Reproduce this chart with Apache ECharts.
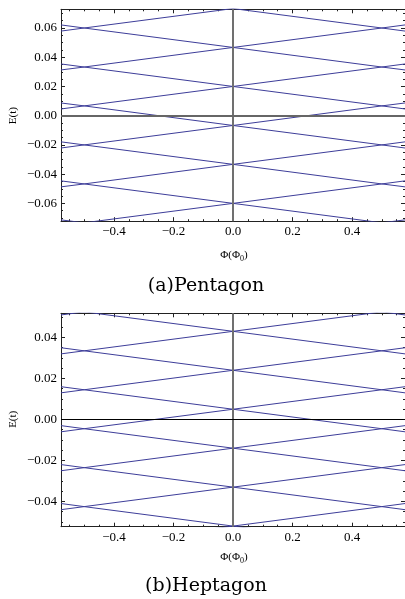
<!DOCTYPE html>
<html>
<head>
<meta charset="utf-8">
<script src="https://cdn.jsdelivr.net/npm/echarts@6/dist/echarts.min.js"></script>
<style>
html,body{margin:0;padding:0;background:#fff;}
#c{width:405px;height:599px;}
</style>
</head>
<body>
<div id="c"></div>
<script>
// ---------- data ----------
// flux sample points Φ/Φ0 at which each level's energy was read
const phiPts = [-0.578, -0.5, 0, 0.5, 0.578];

// (a) Pentagon: rising levels E(t) at phiPts
const pentaUp = [
  [-0.1021, -0.1000, -0.0867, -0.0733, -0.0713],
  [-0.0754, -0.0733, -0.0600, -0.0467, -0.0446],
  [-0.0487, -0.0467, -0.0333, -0.0200, -0.0179],
  [-0.0221, -0.0200, -0.0067,  0.0067,  0.0087],
  [ 0.0046,  0.0067,  0.0200,  0.0333,  0.0354],
  [ 0.0313,  0.0333,  0.0467,  0.0600,  0.0621],
  [ 0.0579,  0.0600,  0.0733,  0.0867,  0.0887]
];
// (a) Pentagon: falling levels
const pentaDown = [
  [-0.0713, -0.0733, -0.0867, -0.1000, -0.1021],
  [-0.0446, -0.0467, -0.0600, -0.0733, -0.0754],
  [-0.0179, -0.0200, -0.0333, -0.0467, -0.0487],
  [ 0.0087,  0.0067, -0.0067, -0.0200, -0.0221],
  [ 0.0354,  0.0333,  0.0200,  0.0067,  0.0046],
  [ 0.0621,  0.0600,  0.0467,  0.0333,  0.0313],
  [ 0.0887,  0.0867,  0.0733,  0.0600,  0.0579]
];
// (b) Heptagon: rising levels
const heptaUp = [
  [-0.0631, -0.0616, -0.0521, -0.0426, -0.0411],
  [-0.0441, -0.0426, -0.0331, -0.0236, -0.0221],
  [-0.0251, -0.0236, -0.0141, -0.0046, -0.0031],
  [-0.0061, -0.0046,  0.0049,  0.0144,  0.0159],
  [ 0.0129,  0.0144,  0.0239,  0.0334,  0.0349],
  [ 0.0319,  0.0334,  0.0429,  0.0524,  0.0539],
  [ 0.0509,  0.0524,  0.0619,  0.0714,  0.0729]
];
// (b) Heptagon: falling levels
const heptaDown = [
  [-0.0411, -0.0426, -0.0521, -0.0616, -0.0631],
  [-0.0221, -0.0236, -0.0331, -0.0426, -0.0441],
  [-0.0031, -0.0046, -0.0141, -0.0236, -0.0251],
  [ 0.0159,  0.0144,  0.0049, -0.0046, -0.0061],
  [ 0.0349,  0.0334,  0.0239,  0.0144,  0.0129],
  [ 0.0539,  0.0524,  0.0429,  0.0334,  0.0319],
  [ 0.0729,  0.0714,  0.0619,  0.0524,  0.0509]
];

// tick values and labels
const xTickValues = [-0.4, -0.2, 0, 0.2, 0.4];
const xTickLabels = ['\u22120.4', '\u22120.2', '0.0', '0.2', '0.4'];
const yTickValuesA = [-0.06, -0.04, -0.02, 0, 0.02, 0.04, 0.06];
const yTickLabelsA = ['\u22120.06', '\u22120.04', '\u22120.02', '0.00', '0.02', '0.04', '0.06'];
const yTickValuesB = [-0.04, -0.02, 0, 0.02, 0.04];
const yTickLabelsB = ['\u22120.04', '\u22120.02', '0.00', '0.02', '0.04'];

const captions = ['(a)Pentagon', '(b)Heptagon'];

// ---------- styling / layout ----------
const LINE_COLOR = '#3d3d99';
const FRAME = '#222';
const LABEL_FONT = 'Liberation Serif';
const LABEL_SIZE = 13;

const panels = [
  { top: 9.3,   height: 211.9, ymin: -0.0722, ymax: 0.0728, yVals: yTickValuesA, yLabs: yTickLabelsA,
    up: pentaUp, down: pentaDown, hLine: { color: '#666', width: 2 }, vLine: { color: '#707070', width: 2 } },
  { top: 313.3, height: 213.4, ymin: -0.0524, ymax: 0.0517, yVals: yTickValuesB, yLabs: yTickLabelsB,
    up: heptaUp, down: heptaDown, hLine: { color: '#000', width: 1 }, vLine: { color: '#707070', width: 2 } }
];
const XMIN = -0.578, XMAX = 0.578;

function minorTicks(lo, hi, step, majors) {
  const out = [];
  const n0 = Math.ceil(lo / step - 1e-9), n1 = Math.floor(hi / step + 1e-9);
  for (let i = n0; i <= n1; i++) {
    const v = Math.round(i * step * 100000) / 100000;
    if (!majors.some(m => Math.abs(m - v) < 1e-9)) out.push(v);
  }
  return out;
}
function lookup(vals, labs) {
  return v => { const i = vals.findIndex(t => Math.abs(t - v) < 1e-9); return i >= 0 ? labs[i] : ''; };
}

const grid = [], xAxis = [], yAxis = [], series = [];
panels.forEach((p, g) => {
  grid.push({ left: 61, top: p.top, width: 346, height: p.height, containLabel: false });
  const xMinor = minorTicks(XMIN, XMAX, 0.05, xTickValues);
  const yMinor = minorTicks(p.ymin, p.ymax, 0.005, p.yVals);
  const baseX = { type: 'value', gridIndex: g, min: XMIN, max: XMAX, splitLine: { show: false },
    axisLine: { show: true, onZero: false, lineStyle: { color: FRAME, width: 1 } } };
  const baseY = { type: 'value', gridIndex: g, min: p.ymin, max: p.ymax, splitLine: { show: false },
    axisLine: { show: true, onZero: false, lineStyle: { color: FRAME, width: 1 } } };
  const lblStyle = { fontFamily: LABEL_FONT, fontSize: LABEL_SIZE, color: '#000' };
  // x axes: bottom major (labels), bottom minor, top major, top minor
  xAxis.push(Object.assign({}, baseX, { position: 'bottom',
    axisTick: { show: true, inside: true, length: 4, customValues: xTickValues, lineStyle: { color: FRAME } },
    axisLabel: Object.assign({ show: true, margin: 4, customValues: xTickValues, formatter: lookup(xTickValues, xTickLabels) }, lblStyle) }));
  xAxis.push(Object.assign({}, baseX, { position: 'bottom', axisLine: { show: false, onZero: false },
    axisTick: { show: true, inside: true, length: 2, customValues: xMinor, lineStyle: { color: FRAME } },
    axisLabel: { show: false } }));
  xAxis.push(Object.assign({}, baseX, { position: 'top',
    axisTick: { show: true, inside: true, length: 4, customValues: xTickValues, lineStyle: { color: FRAME } },
    axisLabel: { show: false } }));
  xAxis.push(Object.assign({}, baseX, { position: 'top', axisLine: { show: false, onZero: false },
    axisTick: { show: true, inside: true, length: 2, customValues: xMinor, lineStyle: { color: FRAME } },
    axisLabel: { show: false } }));
  // y axes
  yAxis.push(Object.assign({}, baseY, { position: 'left',
    axisTick: { show: true, inside: true, length: 4, customValues: p.yVals, lineStyle: { color: FRAME } },
    axisLabel: Object.assign({ show: true, margin: 4, customValues: p.yVals, formatter: lookup(p.yVals, p.yLabs) }, lblStyle) }));
  yAxis.push(Object.assign({}, baseY, { position: 'left', axisLine: { show: false, onZero: false },
    axisTick: { show: true, inside: true, length: 2, customValues: yMinor, lineStyle: { color: FRAME } },
    axisLabel: { show: false } }));
  yAxis.push(Object.assign({}, baseY, { position: 'right',
    axisTick: { show: true, inside: true, length: 4, customValues: p.yVals, lineStyle: { color: FRAME } },
    axisLabel: { show: false } }));
  yAxis.push(Object.assign({}, baseY, { position: 'right', axisLine: { show: false, onZero: false },
    axisTick: { show: true, inside: true, length: 2, customValues: yMinor, lineStyle: { color: FRAME } },
    axisLabel: { show: false } }));

  const ax = g * 4;
  // zero lines
  series.push({ type: 'line', xAxisIndex: ax, yAxisIndex: ax, data: [], silent: true, animation: false,
    markLine: { silent: true, symbol: 'none', animation: false, label: { show: false },
      data: [ { xAxis: 0, lineStyle: Object.assign({ type: 'solid' }, p.vLine) },
              { yAxis: 0, lineStyle: Object.assign({ type: 'solid' }, p.hLine) } ] } });
  p.up.concat(p.down).forEach(vals => {
    series.push({ type: 'line', xAxisIndex: ax, yAxisIndex: ax, silent: true, animation: false,
      symbol: 'none', showSymbol: false, clip: true,
      lineStyle: { color: LINE_COLOR, width: 1 },
      data: phiPts.map((x, i) => [x, vals[i]]) });
  });
});

const graphic = [];
const nameY = [115.7, 419.3];
const xNameY = [255, 557];
const capY = [286, 586];
panels.forEach((p, g) => {
  graphic.push({ type: 'text', x: 13, y: nameY[g], rotation: Math.PI / 2,
    style: { text: 'E(t)', font: '11px "Liberation Serif"', fill: '#000',
      align: 'center', verticalAlign: 'middle', textAlign: 'center', textVerticalAlign: 'middle' } });
  graphic.push({ type: 'text', x: 234, y: xNameY[g],
    style: { text: '{a|\u03A6(\u03A6}{s|0}{a|)}', fill: '#000',
      align: 'center', verticalAlign: 'middle', textAlign: 'center', textVerticalAlign: 'middle',
      rich: { a: { fontFamily: 'Liberation Serif', fontSize: 11, color: '#000', lineHeight: 14 },
              s: { fontFamily: 'Liberation Serif', fontSize: 8, color: '#000', lineHeight: 14, padding: [7, 0, 0, 0] } } } });
  graphic.push({ type: 'text', x: 206, y: capY[g],
    style: { text: captions[g], font: '19px "DejaVu Serif"', fill: '#000',
      align: 'center', verticalAlign: 'middle', textAlign: 'center', textVerticalAlign: 'middle' } });
});

const chart = echarts.init(document.getElementById('c'), null, { renderer: 'canvas' });
chart.setOption({ animation: false, backgroundColor: '#fff', grid, xAxis, yAxis, series, graphic });
</script>
</body>
</html>
